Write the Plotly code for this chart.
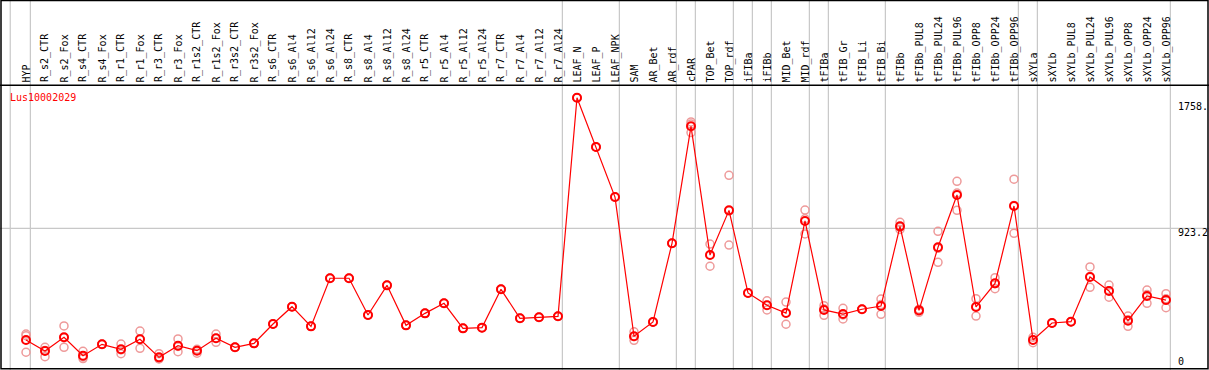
import plotly.graph_objects as go

W, H = 1209, 370

categories = ["HYP", "R_s2_CTR", "R_s2_Fox", "R_s4_CTR", "R_s4_Fox", "R_r1_CTR", "R_r1_Fox",
              "R_r3_CTR", "R_r3_Fox", "R_r1s2_CTR", "R_r1s2_Fox", "R_r3s2_CTR", "R_r3s2_Fox",
              "R_s6_CTR", "R_s6_Al4", "R_s6_Al12", "R_s6_Al24", "R_s8_CTR", "R_s8_Al4", "R_s8_Al12",
              "R_s8_Al24", "R_r5_CTR", "R_r5_Al4", "R_r5_Al12", "R_r5_Al24", "R_r7_CTR", "R_r7_Al4",
              "R_r7_Al12", "R_r7_Al24", "LEAF_N", "LEAF_P", "LEAF_NPK", "SAM", "AR_Bet", "AR_rdf",
              "cPAR", "TOP_Bet", "TOP_rdf", "iFIBa", "iFIBb", "MID_Bet", "MID_rdf", "tFIBa",
              "tFIB_Gr", "tFIB_Li", "tFIB_Bi", "tFIBb", "tFIBb_PUL8", "tFIBb_PUL24", "tFIBb_PUL96",
              "tFIBb_OPP8", "tFIBb_OPP24", "tFIBb_OPP96", "sXYLa", "sXYLb", "sXYLb_PUL8",
              "sXYLb_PUL24", "sXYLb_PUL96", "sXYLb_OPP8", "sXYLb_OPP24", "sXYLb_OPP96"]

mean_values = [134, 56, 153, 23, 103, 68, 139, 11, 93, 58, 146, 82, 110,
               247, 369, 230, 570, 570, 310, 520, 237, 322, 393, 216, 221, 492, 287, 294, 301,
               1846, 1498, 1144, 160, 261, 817, 1644, 734, 1050, 466, 379, 324, 975, 346,
               317, 351, 374, 937, 343, 789, 1159, 367, 534, 1081, 134, 254, 263,
               579, 480, 270, 445, 416]

rep1 = [176, 82, 233, 54, 103, 105, 197, 37, 141, 68, 176, 82, 110,
        247, 369, 230, 570, 570, 310, 520, 237, 322, 393, 216, 221, 492, 287, 294, 301,
        1846, 1498, 1144, 192, 261, 817, 1675, 812, 1298, 466, 411, 402, 1052, 376,
        358, 351, 423, 966, 329, 902, 1255, 426, 574, 1270, 153, 254, 263,
        650, 522, 303, 487, 461]
rep2 = [164, 16, 82, 2, 103, 37, 75, 2, 51, 40, 117, 82, 110,
        247, 369, 230, 570, 570, 310, 520, 237, 322, 393, 216, 221, 492, 287, 294, 301,
        1846, 1498, 1144, 131, 261, 817, 1660, 655, 805, 466, 346, 245, 883, 308,
        282, 351, 315, 930, 350, 683, 1050, 303, 496, 888, 115, 254, 263,
        506, 436, 230, 393, 362]
rep3 = [47, 60, 150, 14, 103, 64, 140, 0, 88, 62, 146, 82, 110,
        247, 369, 230, 570, 570, 310, 520, 237, 322, 393, 216, 221, 492, 287, 294, 301,
        1846, 1498, 1144, 158, 261, 817, 1600, 735, 1047, 466, 380, 325, 990, 354,
        311, 351, 384, 915, 350, 782, 1172, 372, 532, 1085, 134, 254, 263,
        581, 482, 277, 455, 425]

group_ends = [0, 28, 31, 34, 35, 37, 38, 39, 41, 42, 45, 52, 53, 60]
gridline_value = 923.2
right_labels = ["1758.", "923.2", "0"]
gene_name = "Lus10002029"

# pixel geometry -> axis ranges
x0_px, dx_px = 26.0, 19.0
y0_px, ppu = 358.9, 0.14147
x_range = [(0 - x0_px) / dx_px, (W - x0_px) / dx_px]
y_range = [(y0_px - H) / ppu, (y0_px - 0) / ppu]

FONT = "DejaVu Sans Mono"
RED = "#ff0000"
PINK = "#ee9a9a"

fig = go.Figure()

rep_x = categories * 3
rep_y = rep1 + rep2 + rep3
fig.add_trace(go.Scatter(x=rep_x, y=rep_y, mode="markers",
                         marker=dict(symbol="circle-open", size=8, color=PINK,
                                     line=dict(width=1.5, color=PINK)),
                         hoverinfo="skip", showlegend=False))
fig.add_trace(go.Scatter(x=categories, y=mean_values, mode="lines+markers",
                         line=dict(color=RED, width=1.2),
                         marker=dict(symbol="circle-open", size=8, color=RED,
                                     line=dict(width=2, color=RED)),
                         showlegend=False))

shapes = []
sep_positions = [-0.83] + [i + 0.23 for i in group_ends]
for sp in sep_positions:
    shapes.append(dict(type="line", xref="x", yref="paper", x0=sp, x1=sp, y0=0, y1=1,
                       line=dict(color="#c8c8c8", width=1.2), layer="below"))
shapes.append(dict(type="line", xref="paper", yref="y", x0=0, x1=1,
                   y0=gridline_value, y1=gridline_value,
                   line=dict(color="#c8c8c8", width=1.2), layer="below"))

def py(p):
    return 1 - p / H

def px(p):
    return p / W

shapes.append(dict(type="rect", xref="paper", yref="paper", x0=px(1), x1=px(1208),
                   y0=py(368.7), y1=py(0.5), line=dict(color="black", width=1.5)))
shapes.append(dict(type="line", xref="paper", yref="paper", x0=0, x1=1,
                   y0=py(85.3), y1=py(85.3), line=dict(color="black", width=1.5)))

annotations = []
for c in categories:
    annotations.append(dict(x=c, xref="x", y=py(83.5), yref="paper", text=c,
                            textangle=-90, showarrow=False, xanchor="center",
                            yanchor="bottom", borderpad=0,
                            font=dict(family=FONT, size=10, color="black")))
annotations.append(dict(x=px(9), y=py(97.3), xref="paper", yref="paper", text=gene_name,
                        showarrow=False, xanchor="left", yanchor="middle", borderpad=0,
                        font=dict(family=FONT, size=10, color=RED)))
for lab, ypix in zip(right_labels, [106.7, 232.3, 361.7]):
    annotations.append(dict(x=px(1177), y=py(ypix), xref="paper", yref="paper", text=lab,
                            showarrow=False, xanchor="left", yanchor="middle", borderpad=0,
                            font=dict(family=FONT, size=10, color="black")))

fig.update_layout(
    width=W, height=H, margin=dict(l=0, r=0, t=0, b=0),
    paper_bgcolor="white", plot_bgcolor="white",
    xaxis=dict(range=x_range, visible=False, type="category"),
    yaxis=dict(range=y_range, visible=False),
    shapes=shapes, annotations=annotations, showlegend=False,
)
fig.write_html("out.html", config={"displayModeBar": False, "staticPlot": True},
               post_script="document.body.style.margin='0';document.body.style.overflow='hidden';")
